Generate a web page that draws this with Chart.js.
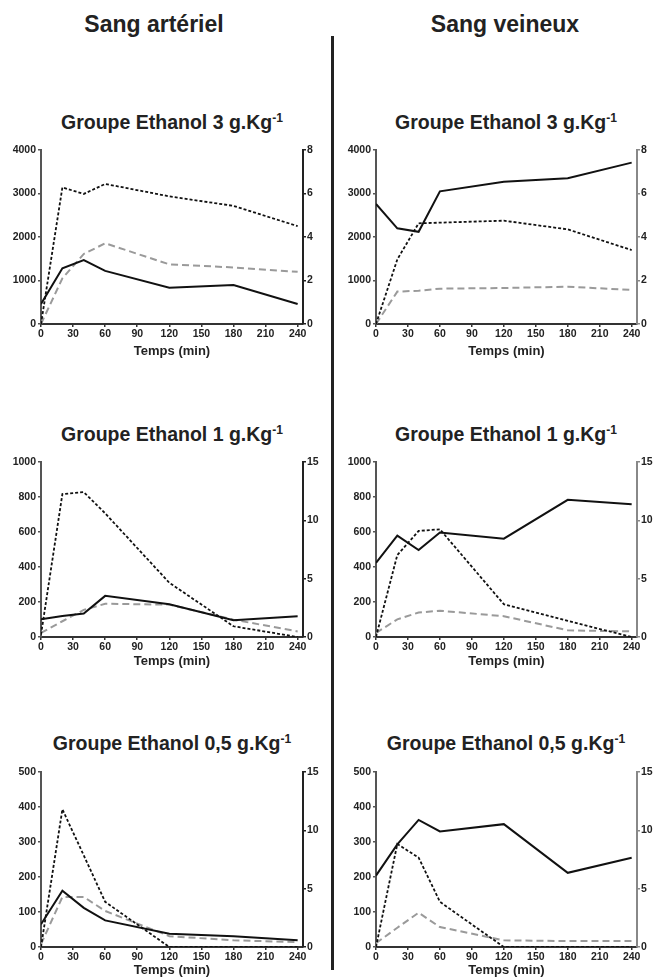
<!DOCTYPE html>
<html lang="fr">
<head>
  <meta charset="UTF-8" />
  <title>Sang artériel / Sang veineux</title>
  <script src="https://cdn.jsdelivr.net/npm/chart.js"></script>
  <style>
    body {
      margin: 0;
      width: 657px;
      height: 980px;
      overflow: hidden;
      background: #fff;
      font-family: "Liberation Sans", Arial, sans-serif;
      color: #222;
      position: relative;
    }
    .head {
      position: absolute;
      font-size: 23px;
      font-weight: bold;
      line-height: 23px;
      white-space: nowrap;
      transform: translateX(-50%);
    }
    .title {
      position: absolute;
      font-size: 19.5px;
      font-weight: bold;
      line-height: 19.5px;
      white-space: nowrap;
      transform: translateX(-50%);
    }
    .title sup {
      font-size: 0.62em;
      vertical-align: baseline;
      position: relative;
      top: -0.6em;
    }
    #divider {
      position: absolute;
      left: 331px;
      top: 36px;
      width: 3px;
      height: 934px;
      background: #222;
    }
    canvas {
      position: absolute;
    }
  </style>
</head>
<body>

  <div class="head" style="left:154px; top:13px;">Sang artériel</div>
  <div class="head" style="left:505px; top:13px;">Sang veineux</div>
  <div id="divider"></div>

  <div class="title" style="left:172px; top:113px;">Groupe Ethanol 3 g.Kg<sup>-1</sup></div>
  <div class="title" style="left:506px; top:113px;">Groupe Ethanol 3 g.Kg<sup>-1</sup></div>
  <div class="title" style="left:172px; top:425px;">Groupe Ethanol 1 g.Kg<sup>-1</sup></div>
  <div class="title" style="left:506px; top:425px;">Groupe Ethanol 1 g.Kg<sup>-1</sup></div>
  <div class="title" style="left:172px; top:734px;">Groupe Ethanol 0,5 g.Kg<sup>-1</sup></div>
  <div class="title" style="left:506px; top:734px;">Groupe Ethanol 0,5 g.Kg<sup>-1</sup></div>

  <canvas id="art3"></canvas>
  <canvas id="ven3"></canvas>
  <canvas id="art1"></canvas>
  <canvas id="ven1"></canvas>
  <canvas id="art05"></canvas>
  <canvas id="ven05"></canvas>

  <script>
    // sampling times (min) and x tick labels
    const times = [0, 20, 40, 60, 120, 180, 240];
    const xTicks = [0, 30, 60, 90, 120, 150, 180, 210, 240];

    // solid = left axis, dotted = right axis, grey dashed = left axis
    const art3Solid  = [460, 1280, 1470, 1220, 835, 897, 460];
    const art3Dotted = [0, 6.28, 5.98, 6.44, 5.87, 5.43, 4.5];
    const art3Grey   = [0, 1050, 1610, 1855, 1372, 1300, 1200];

    const ven3Solid  = [2760, 2200, 2120, 3050, 3270, 3350, 3710];
    const ven3Dotted = [0, 2.97, 4.63, 4.66, 4.75, 4.35, 3.4];
    const ven3Grey   = [0, 745, 765, 812, 828, 858, 782];

    const art1Solid  = [101, 120, 134, 235, 187, 96, 118];
    const art1Dotted = [0.2, 12.25, 12.42, 10.6, 4.65, 0.92, 0];
    const art1Grey   = [23, 90, 155, 190, 185, 99, 32];

    const ven1Solid  = [424, 579, 497, 597, 562, 784, 759];
    const ven1Dotted = [0, 7.03, 9.09, 9.23, 2.81, 1.38, 0];
    const ven1Grey   = [23, 101, 140, 150, 119, 38, 32];

    const art05Solid  = [65, 161, 112, 76, 38, 31, 19];
    const art05Dotted = [0, 11.8, 7.85, 3.87, 0, 0, 0];
    const art05Grey   = [8, 143, 143, 103, 31, 19, 14];

    const ven05Solid  = [204, 293, 363, 330, 351, 212, 255];
    const ven05Dotted = [0, 8.83, 7.66, 3.87, 0, 0, 0];
    const ven05Grey   = [11, 55, 98, 57, 19, 17, 17];

    const FONT = '"Liberation Sans", Arial, sans-serif';
    const tickFont = { family: FONT, size: 10.5, weight: 'bold' };
    const plain = v => String(v);

    function pts(vals) {
      return times.map((t, i) => ({ x: t, y: vals[i] }));
    }

    // box = plot area in page pixels: [left, right, top, bottom]
    function makeChart(id, box, col, xH, solid, dotted, grey, leftMax, leftStep, rightMax, rightStep, rightColor) {
      const [L, R, T, B] = box;
      const cx = col === 0 ? 0 : 335;
      const cw = col === 0 ? 330 : 322;
      const cy = T - 10;
      const ch = B - T + 10 + xH;
      const cv = document.getElementById(id);
      cv.width = cw;
      cv.height = ch;
      cv.style.left = cx + 'px';
      cv.style.top = cy + 'px';

      new Chart(cv.getContext('2d'), {
        type: 'line',
        data: {
          datasets: [
            { data: pts(solid), yAxisID: 'y', borderColor: '#111', borderWidth: 2 },
            { data: pts(dotted), yAxisID: 'y2', borderColor: '#111', borderWidth: 1.8, borderDash: [3, 2] },
            { data: pts(grey), yAxisID: 'y', borderColor: '#9a9a9a', borderWidth: 2, borderDash: [7, 4] }
          ]
        },
        options: {
          responsive: false,
          animation: false,
          events: [],
          layout: { padding: { top: 10, left: 0, right: 0, bottom: 0 } },
          elements: { point: { radius: 0 }, line: { tension: 0, fill: false } },
          plugins: { legend: { display: false }, tooltip: { enabled: false } },
          scales: {
            x: {
              type: 'linear',
              min: 0,
              max: 245,
              afterBuildTicks: s => { s.ticks = xTicks.map(v => ({ value: v })); },
              afterFit: s => { s.height = xH; },
              grid: { drawOnChartArea: false, drawTicks: true, tickLength: 3, color: '#333', lineWidth: 1.5 },
              border: { display: true, color: '#333', width: 2 },
              ticks: { font: tickFont, color: '#222', padding: 1, maxRotation: 0, autoSkip: false, callback: plain },
              title: { display: true, text: 'Temps (min)', color: '#222',
                       font: { family: FONT, size: 13, weight: 'bold' }, padding: { top: 0, bottom: 2 } }
            },
            y: {
              position: 'left',
              min: 0,
              max: leftMax,
              afterFit: s => { s.width = L - cx; },
              grid: { drawOnChartArea: false, drawTicks: true, tickLength: 3, color: '#555', lineWidth: 1.5 },
              border: { display: true, color: '#555', width: 2 },
              ticks: { stepSize: leftStep, font: tickFont, color: '#222', padding: 2, callback: plain }
            },
            y2: {
              position: 'right',
              min: 0,
              max: rightMax,
              afterFit: s => { s.width = cx + cw - R; },
              grid: { drawOnChartArea: false, drawTicks: true, tickLength: 3, color: rightColor, lineWidth: 1.5 },
              border: { display: true, color: rightColor, width: 2 },
              ticks: { stepSize: rightStep, font: tickFont, color: '#222', padding: 1, callback: plain }
            }
          }
        }
      });
    }

    makeChart('art3', [41, 303, 150, 324], 0, 37, art3Solid, art3Dotted, art3Grey, 4000, 1000, 8, 2, '#222');
    makeChart('ven3', [376, 637, 150, 324], 1, 37, ven3Solid, ven3Dotted, ven3Grey, 4000, 1000, 8, 2, '#888');
    makeChart('art1', [41, 303, 462, 637], 0, 34, art1Solid, art1Dotted, art1Grey, 1000, 200, 15, 5, '#222');
    makeChart('ven1', [376, 637, 462, 637], 1, 34, ven1Solid, ven1Dotted, ven1Grey, 1000, 200, 15, 5, '#888');
    makeChart('art05', [41, 303, 772, 947], 0, 33, art05Solid, art05Dotted, art05Grey, 500, 100, 15, 5, '#222');
    makeChart('ven05', [376, 637, 772, 947], 1, 33, ven05Solid, ven05Dotted, ven05Grey, 500, 100, 15, 5, '#888');
  </script>
</body>
</html>
